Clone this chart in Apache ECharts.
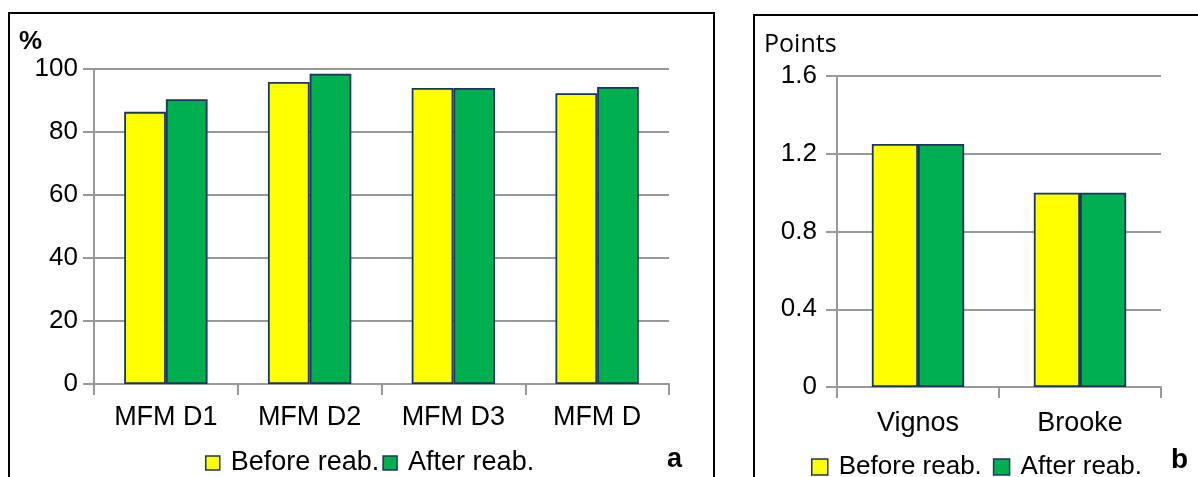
<!DOCTYPE html>
<html>
<head>
<meta charset="utf-8">
<script src="https://cdn.jsdelivr.net/npm/echarts@6/dist/echarts.min.js"></script>
<style>html,body{margin:0;padding:0;background:#fff}#c{width:1198px;height:477px}</style>
</head>
<body>
<div id="c"></div>
<script>
const catsA = ['MFM D1', 'MFM D2', 'MFM D3', 'MFM D'];
const beforeA = [86.4, 95.9, 94.0, 92.3];
const afterA = [90.4, 98.5, 94.0, 94.3];
const ticksA = { min: 0, max: 100, interval: 20 };

const catsB = ['Vignos', 'Brooke'];
const beforeB = [1.25, 1.0];
const afterB = [1.25, 1.0];
const ticksB = { min: 0, max: 1.6, interval: 0.4 };

const seriesNames = ['Before reab.', 'After reab.'];

const YELLOW = '#FFFF00', GREEN = '#00B050', EDGE = '#1A3560', GRID = '#999999';
const FONT = '"Liberation Sans", Arial, sans-serif';

function xAxis(gi, cats, margin, size) {
  return {
    type: 'category', gridIndex: gi, data: cats,
    axisLine: { lineStyle: { color: GRID, width: 2 } },
    axisTick: { show: true, length: 11, alignWithLabel: false, lineStyle: { color: GRID, width: 2 } },
    axisLabel: { color: '#000', fontFamily: FONT, fontSize: size, margin: margin }
  };
}
function yAxis(gi, t, size, margin) {
  return {
    type: 'value', gridIndex: gi, min: t.min, max: t.max, interval: t.interval,
    axisLine: { show: true, lineStyle: { color: GRID, width: 2 } },
    axisTick: { show: true, length: 11, lineStyle: { color: GRID, width: 2 } },
    splitLine: { show: true, lineStyle: { color: GRID, width: 2 } },
    axisLabel: { color: '#000', fontFamily: FONT, fontSize: size, margin: margin,
      formatter: v => (t.interval < 1 ? (v === 0 ? '0' : v.toFixed(1)) : String(v)) }
  };
}
function bar(name, data, gi, color, gap) {
  return {
    type: 'bar', name: name, xAxisIndex: gi, yAxisIndex: gi, data: data,
    barGap: '0%', barCategoryGap: gap,
    itemStyle: { color: color, borderColor: EDGE, borderWidth: 1.8 },
    emphasis: { disabled: true }
  };
}

const chart = echarts.init(document.getElementById('c'));
chart.setOption({
  animation: false,
  backgroundColor: '#fff',
  graphic: [
    { type: 'rect', shape: { x: 9, y: 13, width: 705, height: 490 }, style: { fill: 'none', stroke: '#000', lineWidth: 2 }, silent: true },
    { type: 'rect', shape: { x: 754, y: 15, width: 470, height: 490 }, style: { fill: 'none', stroke: '#000', lineWidth: 2 }, silent: true }
  ],
  title: [
    { text: '%', left: 19, top: 29, padding: 0, textStyle: { fontFamily: FONT, fontWeight: 'bold', fontSize: 26, color: '#000' } },
    { text: 'Points', left: 764, top: 32, padding: 0, textStyle: { fontFamily: '"Open Sans", sans-serif', fontWeight: 'normal', fontSize: 25, color: '#000' } },
    { text: 'a', left: 667, top: 446, padding: 0, textStyle: { fontFamily: FONT, fontWeight: 'bold', fontSize: 27, color: '#000' } },
    { text: 'b', left: 1171, top: 446, padding: 0, textStyle: { fontFamily: FONT, fontWeight: 'bold', fontSize: 28, color: '#000' } }
  ],
  legend: [
    { data: seriesNames, left: 205, top: 449, itemWidth: 14, itemHeight: 14, itemGap: 3, padding: 0,
      icon: 'rect', selectedMode: false,
      itemStyle: { borderColor: EDGE, borderWidth: 1.5 },
      textStyle: { fontFamily: FONT, fontSize: 27, lineHeight: 28, color: '#000', padding: [0, 0, 0, 6] } },
    { data: seriesNames, left: 811, top: 453, itemWidth: 16, itemHeight: 16, itemGap: 11, padding: 0,
      icon: 'rect', selectedMode: false,
      itemStyle: { borderColor: EDGE, borderWidth: 1.5 },
      textStyle: { fontFamily: FONT, fontSize: 26, lineHeight: 28, color: '#000', padding: [0, 0, 0, 6] } }
  ],
  grid: [
    { left: 94, top: 69, width: 575, height: 315 },
    { left: 837, top: 76, width: 324, height: 311 }
  ],
  xAxis: [xAxis(0, catsA, 20, 27), xAxis(1, catsB, 23, 27)],
  yAxis: [yAxis(0, ticksA, 26, 16), yAxis(1, ticksB, 26, 20)],
  series: [
    bar(seriesNames[0], beforeA, 0, YELLOW, '42%'),
    bar(seriesNames[1], afterA, 0, GREEN, '42%'),
    bar(seriesNames[0], beforeB, 1, YELLOW, '43%'),
    bar(seriesNames[1], afterB, 1, GREEN, '43%')
  ]
});
</script>
</body>
</html>
